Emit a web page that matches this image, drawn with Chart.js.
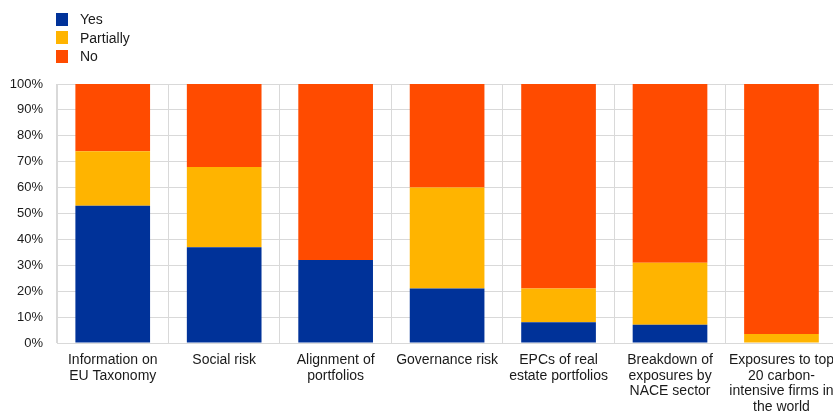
<!DOCTYPE html>
<html>
<head>
<meta charset="utf-8">
<script src="https://cdn.jsdelivr.net/npm/chart.js@4/dist/chart.umd.min.js"></script>
<style>
  html, body { margin: 0; padding: 0; background: #fff; overflow: hidden; }
  #wrap { position: absolute; left: 0; top: 0; width: 843px; height: 414px; }
  #legend { position: absolute; left: 56px; top: 10px; font: 14px "Liberation Sans", Arial, sans-serif; color: #1a1a1a; }
  #legend div { height: 18.5px; display: flex; align-items: center; }
  #legend span.box { width: 12px; height: 13px; margin-right: 12px; display: inline-block; }
</style>
</head>
<body>
<div id="wrap"><canvas id="myChart"></canvas></div>
<div id="legend"></div>
<script>
// Categories (multi-line labels)
const categories = [
  ['Information on', 'EU Taxonomy'],
  ['Social risk'],
  ['Alignment of', 'portfolios'],
  ['Governance risk'],
  ['EPCs of real', 'estate portfolios'],
  ['Breakdown of', 'exposures by', 'NACE sector'],
  ['Exposures to top', '20 carbon-', 'intensive firms in', 'the world']
];
// Share of answers, percent
const yesValues       = [53, 37, 32, 21, 8, 7, 0];
const partiallyValues = [21, 31, 0, 39, 13, 24, 3.5];
const noValues        = [26, 32, 68, 40, 79, 69, 96.5];
const yTicks = [0, 10, 20, 30, 40, 50, 60, 70, 80, 90, 100];

const FONT = '"Liberation Sans", Arial, sans-serif';
const GRID = '#d9d9d9';

let ctx = document.getElementById('myChart').getContext('2d');
window.chart = new Chart(ctx, {
  type: 'bar',
  data: {
    labels: categories,
    datasets: [
      { label: 'Yes', data: yesValues, backgroundColor: '#003299' },
      { label: 'Partially', data: partiallyValues, backgroundColor: '#FFB400' },
      { label: 'No', data: noValues, backgroundColor: '#FF4B00' }
    ]
  },
  options: {
    responsive: true,
    maintainAspectRatio: false,
    animation: false,
    datasets: { bar: { categoryPercentage: 1, barPercentage: 0.67 } },
    layout: { padding: { top: 84, left: 0, right: 0, bottom: 0 } },
    plugins: {
      legend: { display: false },
      tooltip: { enabled: false }
    },
    scales: {
      x: {
        stacked: true,
        grid: { color: GRID, drawTicks: false, offset: true },
        border: { color: GRID },
        ticks: {
          padding: 9, maxRotation: 0, autoSkip: false,
          color: '#1a1a1a', font: { family: FONT, size: 14, lineHeight: 1.13 }
        },
        afterFit: s => { s.height = 71; }
      },
      y: {
        stacked: true,
        min: 0, max: 100,
        afterBuildTicks: s => { s.ticks = yTicks.map(v => ({ value: v })); },
        grid: { color: GRID, drawTicks: false },
        border: { color: GRID },
        ticks: {
          padding: 14, color: '#1a1a1a',
          font: { family: FONT, size: 13 },
          callback: v => v + '%'
        },
        afterFit: s => { s.width = 57; }
      }
    }
  }
});

// vertical legend built from the datasets
const legendEl = document.getElementById('legend');
window.chart.data.datasets.forEach(ds => {
  const row = document.createElement('div');
  const box = document.createElement('span');
  box.className = 'box';
  box.style.background = ds.backgroundColor;
  row.appendChild(box);
  row.appendChild(document.createTextNode(ds.label));
  legendEl.appendChild(row);
});
</script>
</body>
</html>
